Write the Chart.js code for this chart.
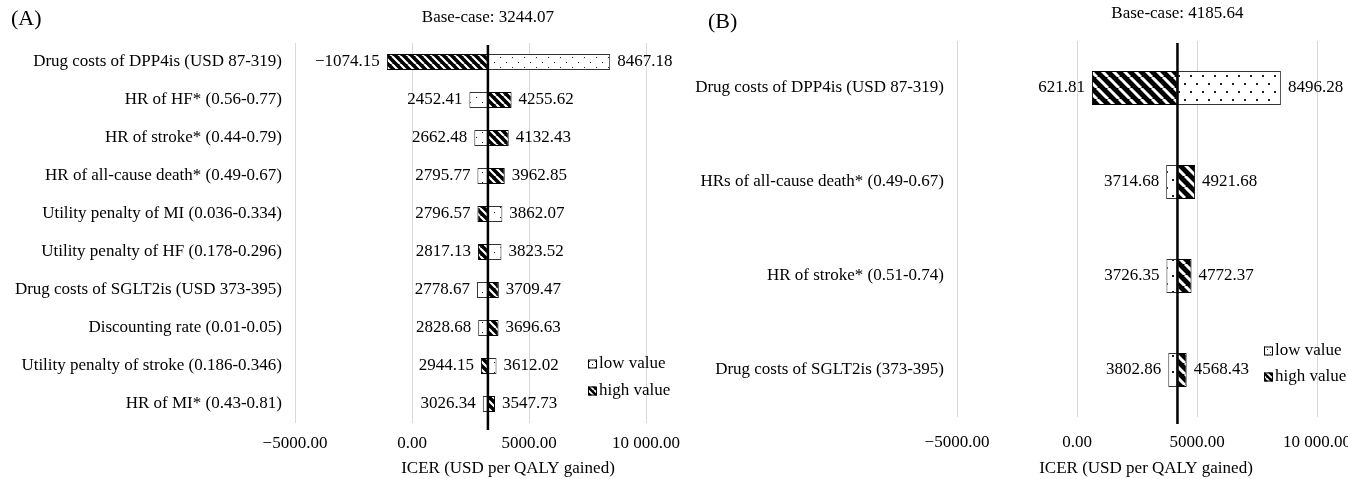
<!DOCTYPE html>
<html>
<head>
<meta charset="utf-8">
<script src="https://cdn.jsdelivr.net/npm/chart.js@4.4.1/dist/chart.umd.min.js"></script>
<style>
  html, body { margin: 0; padding: 0; background: #fff; }
  #wrap { position: relative; width: 1348px; height: 479px; overflow: hidden; }
  .panel { position: absolute; top: 0; height: 479px; }
  #boxA { left: 0; width: 690px; }
  #boxB { left: 690px; width: 720px; }
  .tag { position: absolute; font-family: "Liberation Serif", serif; font-size: 22px; color: #000; }
</style>
</head>
<body>
<div id="wrap">
  <div class="panel" id="boxA"><canvas id="chartA"></canvas></div>
  <div class="panel" id="boxB"><canvas id="chartB"></canvas></div>
  <div class="tag" style="left:11px;top:5px">(A)</div>
  <div class="tag" style="left:708px;top:8px">(B)</div>
</div>
<script>
// panel A data
var labelsA = [
  "Drug costs of DPP4is (USD 87-319)",
  "HR of HF* (0.56-0.77)",
  "HR of stroke* (0.44-0.79)",
  "HR of all-cause death* (0.49-0.67)",
  "Utility penalty of MI (0.036-0.334)",
  "Utility penalty of HF (0.178-0.296)",
  "Drug costs of SGLT2is (USD 373-395)",
  "Discounting rate (0.01-0.05)",
  "Utility penalty of stroke (0.186-0.346)",
  "HR of MI* (0.43-0.81)"
];
var lowA  = [8467.18, 2452.41, 2662.48, 2795.77, 3862.07, 3823.52, 2778.67, 2828.68, 3612.02, 3026.34];
var highA = [-1074.15, 4255.62, 4132.43, 3962.85, 2796.57, 2817.13, 3709.47, 3696.63, 2944.15, 3547.73];
var baseA = 3244.07;

// panel B data
var labelsB = [
  "Drug costs of DPP4is (USD 87-319)",
  "HRs of all-cause death* (0.49-0.67)",
  "HR of stroke* (0.51-0.74)",
  "Drug costs of SGLT2is (373-395)"
];
var lowB  = [8496.28, 3714.68, 3726.35, 3802.86];
var highB = [621.81, 4921.68, 4772.37, 4568.43];
var baseB = 4185.64;

var xMin = -5000, xMax = 10000, xStep = 5000;
var seriesNames = ["low value", "high value"];

var FONT = '"Liberation Serif", "Times New Roman", serif';

function fmt(v) {
  var s = Math.abs(v).toFixed(2);
  var parts = s.split(".");
  if (parts[0].length > 4) parts[0] = parts[0].replace(/\B(?=(\d{3})+(?!\d))/g, " ");
  return (v < 0 ? "\u2212" : "") + parts[0] + "." + parts[1];
}

// fill patterns
function stripes(size, w) {
  var c = document.createElement("canvas");
  c.width = c.height = size;
  var g = c.getContext("2d");
  g.fillStyle = "#000";
  g.fillRect(0, 0, size, size);
  g.strokeStyle = "#fff";
  g.lineWidth = w;
  g.beginPath();
  for (var k = -1; k <= 1; k++) {
    g.moveTo(k * size, 0);
    g.lineTo(k * size + size, size);
  }
  g.stroke();
  return g.createPattern(c, "repeat");
}
function dots(w, h, r) {
  var c = document.createElement("canvas");
  c.width = w; c.height = h;
  var g = c.getContext("2d");
  g.fillStyle = "#fff";
  g.fillRect(0, 0, w, h);
  g.fillStyle = "#222";
  g.fillRect(Math.round(w * 0.2), Math.round(h * 0.2), r, r);
  g.fillRect(Math.round(w * 0.7), Math.round(h * 0.7), r, r);
  return g.createPattern(c, "repeat");
}

var tornadoPlugin = {
  id: "tornado",
  afterDatasetsDraw: function(chart, args, o) {
    var ctx = chart.ctx, xs = chart.scales.x, ys = chart.scales.y, a = chart.chartArea;
    var low = chart.data.datasets[0].data, high = chart.data.datasets[1].data;
    ctx.save();
    ctx.fillStyle = "#000";
    ctx.font = "17px " + FONT;
    ctx.textBaseline = "middle";
    for (var i = 0; i < low.length; i++) {
      var v1 = low[i][1], v2 = high[i][1];
      var lo = Math.min(v1, v2), hi = Math.max(v1, v2);
      var y = ys.getPixelForValue(i);
      ctx.textAlign = "right";
      ctx.fillText(fmt(lo), xs.getPixelForValue(lo) - o.gap, y);
      ctx.textAlign = "left";
      ctx.fillText(fmt(hi), xs.getPixelForValue(hi) + o.gap, y);
    }
    // base-case line
    var bx = xs.getPixelForValue(o.base);
    ctx.strokeStyle = "#000";
    ctx.lineWidth = 2.5;
    ctx.beginPath();
    ctx.moveTo(bx, a.top + 2);
    ctx.lineTo(bx, a.bottom + 7);
    ctx.stroke();
    ctx.textAlign = "center";
    ctx.fillText("Base-case: " + o.base.toFixed(2), bx, o.titleY);
    // axis title
    ctx.fillText("ICER (USD per QALY gained)", o.axisTitleX, 469);
    // legend
    var ds = chart.data.datasets;
    for (var k = 0; k < 2; k++) {
      var ly = o.legendY[k];
      ctx.fillStyle = k === 0 ? legendLow : legendHigh;
      ctx.fillRect(o.legendX, ly - 4.5, 9, 9);
      ctx.strokeStyle = "#000";
      ctx.lineWidth = 1;
      ctx.strokeRect(o.legendX + 0.5, ly - 4, 8, 8);
      ctx.fillStyle = "#000";
      ctx.textAlign = "left";
      ctx.fillText(ds[k].label, o.legendX + 11, ly);
    }
    ctx.restore();
  }
};

var legendLow = dots(6, 6, 1);
var legendHigh = stripes(6, 1.8);

function makeChart(id, labels, low, high, base, lay) {
  var datasets = [
    {
      label: seriesNames[0],
      data: low.map(function(v) { return [base, v]; }),
      backgroundColor: lay.dotFill,
      borderColor: "#333",
      borderWidth: 1,
      borderSkipped: false,
      grouped: false,
      barPercentage: lay.barPct,
      categoryPercentage: 1
    },
    {
      label: seriesNames[1],
      data: high.map(function(v) { return [base, v]; }),
      backgroundColor: lay.stripeFill,
      borderColor: "#000",
      borderWidth: 1,
      borderSkipped: false,
      grouped: false,
      barPercentage: lay.barPct,
      categoryPercentage: 1
    }
  ];
  return new Chart(document.getElementById(id), {
    type: "bar",
    data: { labels: labels, datasets: datasets },
    plugins: [tornadoPlugin],
    options: {
      indexAxis: "y",
      responsive: true,
      maintainAspectRatio: false,
      animation: false,
      layout: { padding: { top: lay.top, right: lay.right, left: 0, bottom: 0 } },
      plugins: {
        legend: { display: false },
        tooltip: { enabled: false },
        tornado: {
          base: base, gap: 7, titleY: lay.titleY,
          axisTitleX: lay.axisTitleX, legendX: lay.legendX, legendY: lay.legendY
        }
      },
      scales: {
        x: {
          min: xMin, max: xMax,
          ticks: {
            stepSize: xStep, color: "#000", padding: lay.tickPad, maxRotation: 0,
            font: { family: FONT, size: 17 },
            callback: function(v) { return fmt(v); }
          },
          grid: { color: "#d9d9d9", lineWidth: 1, drawTicks: false },
          border: { display: false },
          afterFit: function(s) { s.height = lay.bottomH; }
        },
        y: {
          ticks: { color: "#000", padding: 13, font: { family: FONT, size: 17 } },
          grid: { display: false, drawTicks: false },
          border: { display: false },
          afterFit: function(s) { s.width = lay.left; }
        }
      }
    }
  });
}

makeChart("chartA", labelsA, lowA, highA, baseA, {
  top: 43, right: 44, left: 295, bottomH: 56, tickPad: 10, barPct: 0.42,
  titleY: 18, axisTitleX: 508, legendX: 588, legendY: [364, 391],
  dotFill: dots(12, 10, 1), stripeFill: stripes(8, 2.2)
});
makeChart("chartB", labelsB, lowB, highB, baseB, {
  top: 41, right: 93, left: 267, bottomH: 62, tickPad: 15, barPct: 0.36,
  titleY: 14, axisTitleX: 456, legendX: 574, legendY: [351, 377],
  dotFill: dots(12, 16, 2), stripeFill: stripes(11, 3)
});
</script>
</body>
</html>
